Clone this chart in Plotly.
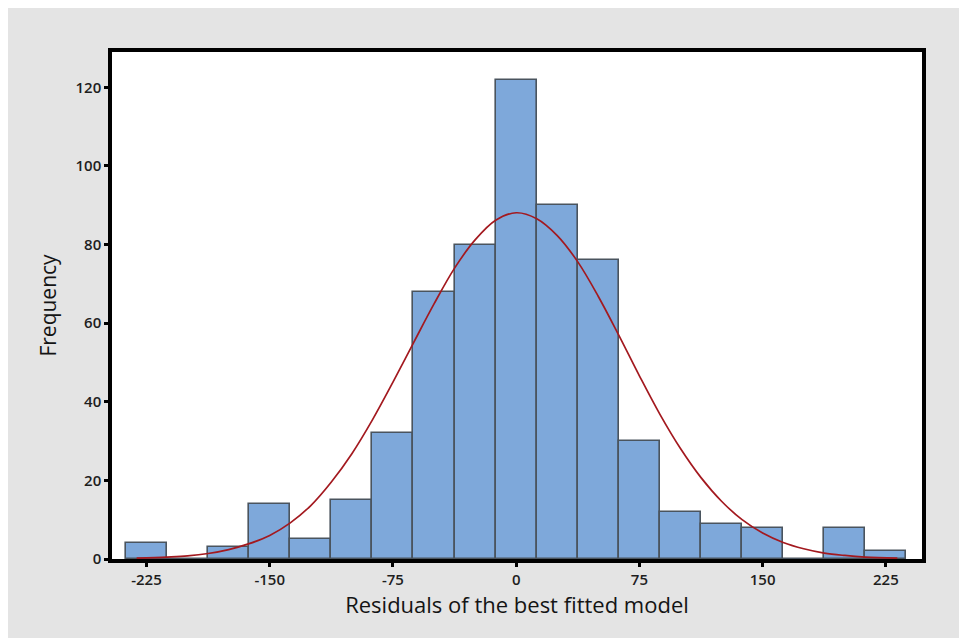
import plotly.graph_objects as go

# ---- data ----
bin_centers = [-225, -200, -175, -150, -125, -100, -75, -50, -25, 0,
               25, 50, 75, 100, 125, 150, 175, 200, 225]
frequencies = [4, 0, 3, 14, 5, 15, 32, 68, 80, 122,
               90, 76, 30, 12, 9, 8, 0, 8, 2]

# fitted normal curve
curve_x = [-231, -212.5, -200, -187.5, -175, -162.5, -150, -137.5, -125, -112.5,
           -100, -87.5, -75, -62.5, -50, -37.5, -25, -12.5, 0, 12.5,
           25, 37.5, 50, 62.5, 75, 87.5, 100, 112.5, 125, 137.5,
           150, 162.5, 175, 187.5, 200, 212.5, 232]
curve_y = [0.2, 0.5, 0.8, 1.4, 2.4, 3.9, 6.0, 9.2, 13.6, 19.6,
           26.8, 35.4, 45.0, 55.0, 64.9, 74.0, 81.2, 86.2, 88.1, 86.6,
           82.3, 75.6, 66.8, 56.9, 46.6, 36.8, 28.1, 20.7, 14.7, 10.0,
           6.6, 4.2, 2.6, 1.5, 0.9, 0.5, 0.2]

x_ticks = [-225, -150, -75, 0, 75, 150, 225]
x_tick_text = ["-225", "-150", "-75", "0", "75", "150", "225"]
y_ticks = [0, 20, 40, 60, 80, 100, 120]

x_title = "Residuals of the best fitted model"
y_title = "Frequency"

FONT = "Open Sans, Noto Sans, DejaVu Sans, sans-serif"

# figure is placed by the page with an 8px body margin
W, H = 959, 630
ML, MR, MT, MB = 104, 45, 44, 79
PW, PH = W - ML - MR, H - MT - MB

fig = go.Figure()
fig.add_trace(go.Bar(
    x=bin_centers, y=frequencies, width=25,
    marker=dict(color="#7ea8da", line=dict(color="#4a545e", width=1.6)),
    showlegend=False, hoverinfo="x+y",
))
fig.add_trace(go.Scatter(
    x=curve_x, y=curve_y, mode="lines",
    line=dict(color="#a3191f", width=1.7, shape="spline", smoothing=1.0),
    showlegend=False,
))

axis_common = dict(
    showline=True, linecolor="black", linewidth=3.5, mirror=True,
    ticks="outside", tickcolor="black", tickwidth=2.5, ticklen=4,
    showgrid=False, zeroline=False,
    tickfont=dict(family=FONT, size=15, color="#1e1e1e", weight=600),
)

fig.update_layout(
    width=W, height=H,
    margin=dict(l=ML, r=MR, t=MT, b=MB),
    paper_bgcolor="#e4e4e4",
    plot_bgcolor="white",
    bargap=0,
    xaxis=dict(range=[-246, 247], tickvals=x_ticks, ticktext=x_tick_text,
               title=dict(text=x_title, font=dict(family=FONT, size=22, color="#141414"),
                          standoff=4),
               **axis_common),
    yaxis=dict(range=[0, 129], tickvals=y_ticks,
               title=dict(text=y_title, font=dict(family=FONT, size=21, color="#141414"),
                          standoff=14),
               **axis_common),
    shapes=[
        dict(type="rect", xref="paper", yref="paper", layer="above",
             x0=(W - 2 - ML) / PW, x1=(W - ML) / PW,
             y0=-MB / PH, y1=(PH + MT) / PH,
             fillcolor="#f4f4f4", line=dict(width=0)),
    ],
)

fig.write_html("out.html")
